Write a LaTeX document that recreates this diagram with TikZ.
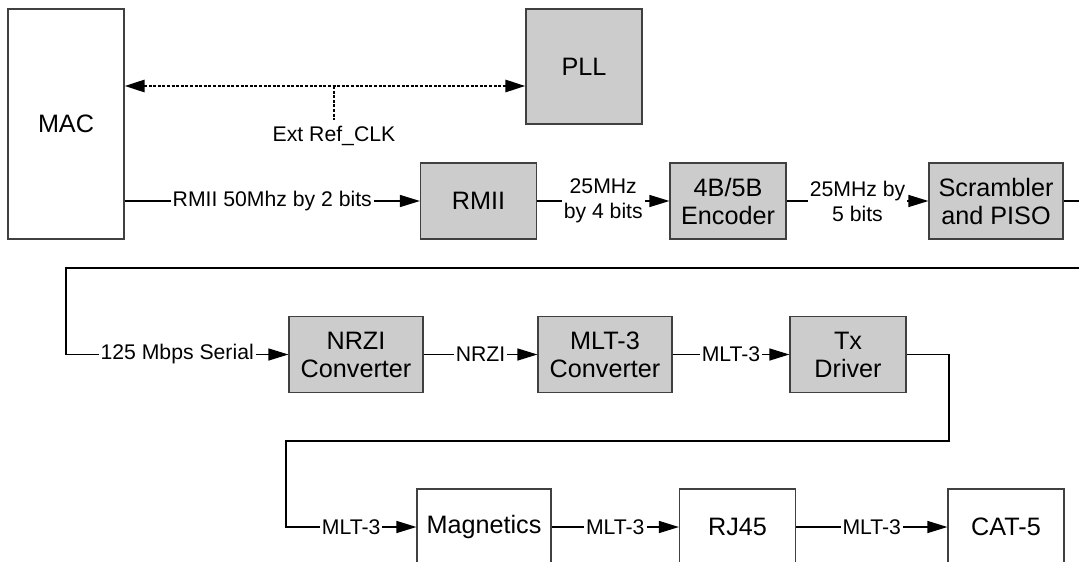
\documentclass[tikz,border=0pt]{standalone}
\usepackage{fontspec}
\setmainfont{Liberation Sans}
\usetikzlibrary{arrows.meta}
\usetikzlibrary{calc}
\tikzset{
  blk/.style={draw=black!75, line width=0.6pt, fill=black!20, align=center,
    inner sep=0pt, font=\fontsize{12.6}{14}\selectfont},
  wblk/.style={blk, fill=white},
  lbl/.style={fill=white, inner sep=1pt, align=center,
    font=\fontsize{10.6}{12.5}\selectfont},
  wire/.style={line width=0.65pt, -{Triangle[length=10pt,width=6pt]}},
  clk/.style={line width=1.4pt, dash pattern=on 1.5pt off 0.8pt},
}

\begin{document}
\begin{tikzpicture}[x=0.5pt,y=-0.5pt]
  \def\bw{58pt}
  \def\bwl{67pt}
  \def\bht{38pt}
  \useasboundingbox (0,0) rectangle (1079,561);
  \clip (0,0) rectangle (1079,561);

  \node[wblk, minimum width=\bw, minimum height=115pt] (mac) at (66,124) {MAC};
  \node[blk, minimum width=\bw, minimum height=57.5pt] (pll) at (584,66.5) {PLL};

  \node[blk, minimum width=\bw, minimum height=\bht] (rmii) at (478.5,201) {RMII};
  \node[blk, minimum width=\bw, minimum height=\bht] (enc) at (728,201) {4B/5B\\Encoder};
  \node[blk, minimum width=\bwl, minimum height=\bht] (scr) at (996,201) {Scrambler\\and PISO};

  \node[blk, minimum width=\bwl, minimum height=\bht] (nrzi) at (356,354.5) {NRZI\\Converter};
  \node[blk, minimum width=\bwl, minimum height=\bht] (mlt) at (605,354.5) {MLT-3\\Converter};
  \node[blk, minimum width=\bw, minimum height=\bht] (tx) at (848,354.5) {Tx\\Driver};

  \node[wblk, minimum width=\bwl, minimum height=\bht] (mag) at (484,527) {Magnetics};
  \node[wblk, minimum width=\bw, minimum height=\bht] (rj) at (737.5,527) {RJ45};
  \node[wblk, minimum width=\bw, minimum height=\bht] (cat) at (1006,527) {CAT-5};

  \coordinate (tap) at (334,86);
  \coordinate (tapend) at (334,120);
  \node[lbl] (ext) at (334,136) {Ext Ref\_CLK};
  \draw[clk, {Triangle[length=10pt,width=6pt]}-{Triangle[length=10pt,width=6pt]}]
    (tap -| mac.east) -- (tap -| pll.west);
  \draw[clk] (tap) -- (tapend);

  \draw[wire] (mac.east |- rmii) -- node[lbl]{RMII 50Mhz by 2 bits} (rmii);
  \draw[wire] (rmii) -- node[lbl]{25MHz\\by 4 bits} (enc);
  \draw[wire] (enc) -- node[lbl]{25MHz by\\5 bits} (scr);

  \coordinate (wrapA) at (1090,268);
  \coordinate (wrapB) at (66,268);
  \draw[wire] (scr.east) -| (wrapA) -- (wrapB) |- node[lbl, pos=0.75]{125 Mbps Serial} (nrzi.west);
  \draw[wire] (nrzi) -- node[lbl]{NRZI} (mlt);
  \draw[wire] (mlt) -- node[lbl]{MLT-3} (tx);

  \coordinate (wrapC) at (949,441);
  \coordinate (wrapD) at (286,441);
  \draw[wire] (tx.east) -| (wrapC) -- (wrapD) |- node[lbl, pos=0.75]{MLT-3} (mag.west);
  \draw[wire] (mag) -- node[lbl]{MLT-3} (rj);
  \draw[wire] (rj) -- node[lbl]{MLT-3} (cat);
\end{tikzpicture}
\end{document}
